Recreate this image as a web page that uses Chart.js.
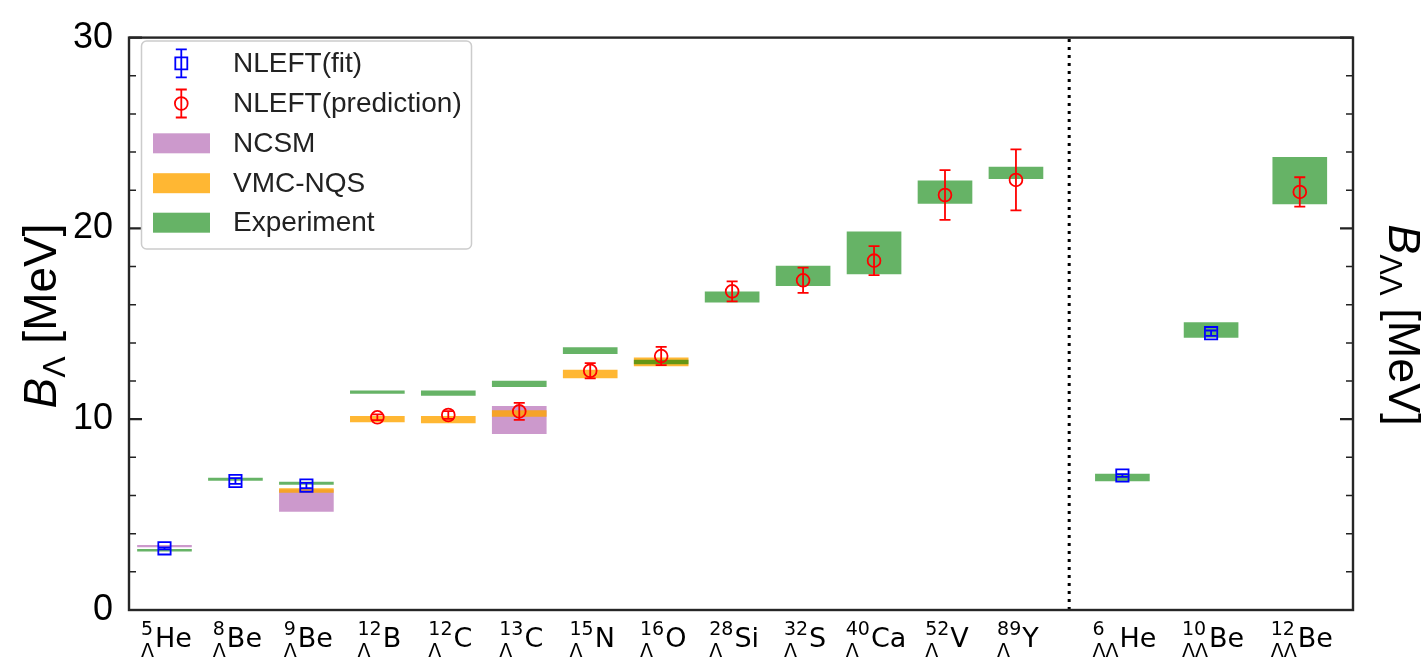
<!DOCTYPE html>
<html><head><meta charset="utf-8">
<script src="https://cdn.jsdelivr.net/npm/chart.js@4.4.1/dist/chart.umd.min.js"></script>
<style>html,body{margin:0;padding:0;background:#fff;} #wrap{width:1421px;height:658px;position:relative;}</style>
</head><body><div id="wrap"><canvas id="c" width="1421" height="658"></canvas></div>
<script>
// ---------- data ----------
const xPos = [0,1,2,3,4,5,6,7,8,9,10,11,12,13.5,14.75,16];
const massNumbers = ['5','8','9','12','12','13','15','16','28','32','40','52','89','6','10','12'];
const hyperons = ['Λ','Λ','Λ','Λ','Λ','Λ','Λ','Λ','Λ','Λ','Λ','Λ','Λ','ΛΛ','ΛΛ','ΛΛ'];
const elements = ['He','Be','Be','B','C','C','N','O','Si','S','Ca','V','Y','He','Be','Be'];

const expLow  = [3.08,6.79,6.58,11.35,11.25,11.70,13.44,12.90,16.13,17.00,17.62,21.31,22.60,6.76,14.28,21.28];
const expHigh = [3.18,6.91,6.70,11.49,11.49,12.00,13.75,13.10,16.68,18.02,19.82,22.49,23.21,7.12,15.07,23.73];

const ncsmLow  = [3.31,null,5.17,null,null,9.24,null,null,null,null,null,null,null,null,null,null];
const ncsmHigh = [3.39,null,6.30,null,null,10.67,null,null,null,null,null,null,null,null,null,null];

const vmcLow  = [null,null,6.16,9.86,9.81,10.15,12.16,12.79,null,null,null,null,null,null,null,null];
const vmcHigh = [null,null,6.36,10.15,10.15,10.45,12.57,13.22,null,null,null,null,null,null,null,null];

const fitValues = [3.23,6.76,6.52,null,null,null,null,null,null,null,null,null,null,7.05,14.51,null];
const fitErrors = [0.05,0.15,0.14,null,null,null,null,null,null,null,null,null,null,0.07,0.14,null];

const predValues = [null,null,null,10.10,10.22,10.41,12.54,13.31,16.70,17.28,18.31,21.75,22.54,null,null,21.91];
const predErrors = [null,null,null,0.15,0.20,0.45,0.40,0.48,0.52,0.66,0.76,1.30,1.60,null,null,0.77];

const yTickValues = [0,10,20,30];
const seriesNames = ['NLEFT(fit)','NLEFT(prediction)','NCSM','VMC-NQS','Experiment'];
const dividerX = 12.75;

// ---------- styling ----------
const COL_FIT = '#0000ff', COL_PRED = '#ff0000';
const COL_NCSM = 'rgba(128,0,128,0.4)', COL_VMC = 'rgba(255,165,0,0.8)', COL_EXP = 'rgba(0,128,0,0.6)';
const SANS = '"Liberation Sans", Arial, sans-serif';
const DJV = '"DejaVu Sans", sans-serif';

function bandData(lo, hi){ return xPos.map((x,i)=> lo[i]==null ? null : {x:x, y:[lo[i],hi[i]]}).filter(Boolean); }
function pointData(v){ return xPos.map((x,i)=> v[i]==null ? null : {x:x, y:v[i]}).filter(Boolean); }

const barCommon = {type:'bar', stack:'s', barThickness:54, borderWidth:0, borderSkipped:false};

const datasets = [
  {type:'scatter', label:seriesNames[0], data:pointData(fitValues), pointStyle:'rect', pointRadius:8.7, pointBorderColor:COL_FIT, pointBackgroundColor:'rgba(0,0,0,0)', pointBorderWidth:1.8, borderColor:COL_FIT, order:2},
  {type:'scatter', label:seriesNames[1], data:pointData(predValues), pointStyle:'circle', pointRadius:6.4, pointBorderColor:COL_PRED, pointBackgroundColor:'rgba(0,0,0,0)', pointBorderWidth:1.8, borderColor:COL_PRED, order:1},
  Object.assign({label:seriesNames[2], data:bandData(ncsmLow,ncsmHigh), backgroundColor:COL_NCSM, order:5}, barCommon),
  Object.assign({label:seriesNames[3], data:bandData(vmcLow,vmcHigh), backgroundColor:COL_VMC, order:4}, barCommon),
  Object.assign({label:seriesNames[4], data:bandData(expLow,expHigh), backgroundColor:COL_EXP, order:3}, barCommon)
];

function drawErrorBars(chart, values, errors, color){
  const ctx = chart.ctx, xs = chart.scales.x, ys = chart.scales.y;
  ctx.save(); ctx.strokeStyle = color; ctx.lineWidth = 1.8;
  xPos.forEach((x,i)=>{
    if (values[i]==null) return;
    const px = xs.getPixelForValue(x);
    const yt = ys.getPixelForValue(values[i]+errors[i]);
    const yb = ys.getPixelForValue(values[i]-errors[i]);
    ctx.beginPath();
    ctx.moveTo(px,yt); ctx.lineTo(px,yb);
    ctx.moveTo(px-5.5,yt); ctx.lineTo(px+5.5,yt);
    ctx.moveTo(px-5.5,yb); ctx.lineTo(px+5.5,yb);
    ctx.stroke();
  });
  ctx.restore();
}

function drawTitle(ctx, cx, cy, rot, size, subText){
  const segs = [
    {t:'B', font:'italic '+size+'px '+SANS, dy:0},
    {t:subText, font:Math.round(size*0.7)+'px '+SANS, dy:size*0.2},
    {t:' [MeV]', font:size+'px '+SANS, dy:0}
  ];
  let w = 0;
  segs.forEach(s=>{ ctx.font = s.font; s.w = ctx.measureText(s.t).width; w += s.w; });
  ctx.save(); ctx.translate(cx, cy); ctx.rotate(rot);
  ctx.fillStyle = '#000'; ctx.textBaseline = 'alphabetic'; ctx.textAlign = 'left';
  let x = -w/2;
  segs.forEach(s=>{ ctx.font = s.font; ctx.fillText(s.t, x, s.dy); x += s.w; });
  ctx.restore();
}

const decor = {
  id:'decor',
  afterDatasetDraw(chart, args){
    if (args.index === 4){
      drawErrorBars(chart, fitValues, fitErrors, COL_FIT);
      drawErrorBars(chart, predValues, predErrors, COL_PRED);
    }
  },
  afterDraw(chart){
    const ctx = chart.ctx, a = chart.chartArea, xs = chart.scales.x, ys = chart.scales.y;
    // divider
    ctx.save();
    ctx.strokeStyle = '#000'; ctx.lineWidth = 3; ctx.setLineDash([3,5]);
    const dx = xs.getPixelForValue(dividerX);
    ctx.beginPath(); ctx.moveTo(dx, a.bottom); ctx.lineTo(dx, a.top); ctx.stroke();
    ctx.restore();
    // y ticks inward, both sides
    ctx.save(); ctx.strokeStyle = '#222';
    for (let v = 0; v <= 30; v += 2){
      const py = ys.getPixelForValue(v);
      const major = yTickValues.includes(v);
      const len = major ? 13 : 7;
      ctx.lineWidth = major ? 2.2 : 1.5;
      ctx.beginPath();
      ctx.moveTo(a.left, py); ctx.lineTo(a.left+len, py);
      ctx.moveTo(a.right, py); ctx.lineTo(a.right-len, py);
      ctx.stroke();
    }
    // frame
    ctx.lineWidth = 2.4; ctx.strokeStyle = '#262626';
    ctx.strokeRect(a.left, a.top, a.right-a.left, a.bottom-a.top);
    ctx.restore();
    // x labels
    ctx.save(); ctx.fillStyle = '#000'; ctx.textBaseline = 'alphabetic'; ctx.textAlign = 'left';
    const base = 646.7;
    const supF = '19px '+DJV, mainF = '27px '+DJV;
    xPos.forEach((x,i)=>{
      const cx = xs.getPixelForValue(x);
      ctx.font = supF;
      const supW = ctx.measureText(massNumbers[i]).width;
      const subW = ctx.measureText(hyperons[i]).width;
      ctx.font = mainF;
      const elW = ctx.measureText(elements[i]).width;
      const lw = Math.max(supW, subW);
      const w = lw + 1 + elW;
      const x0 = cx - w/2 + 2;
      ctx.font = supF;
      ctx.fillText(massNumbers[i], x0, base-11.5);
      ctx.fillText(hyperons[i], x0, base+10);
      ctx.font = mainF;
      ctx.fillText(elements[i], x0+lw+1, base);
    });
    ctx.restore();
    // axis titles
    drawTitle(ctx, 56, 316, -Math.PI/2, 46, 'Λ');
    drawTitle(ctx, 1389, 325, Math.PI/2, 45, 'ΛΛ');
    // legend
    ctx.save();
    const lx = 141.5, ly = 41, lw2 = 330, lh = 208, r = 5;
    ctx.beginPath();
    ctx.moveTo(lx+r, ly); ctx.lineTo(lx+lw2-r, ly); ctx.arcTo(lx+lw2, ly, lx+lw2, ly+r, r);
    ctx.lineTo(lx+lw2, ly+lh-r); ctx.arcTo(lx+lw2, ly+lh, lx+lw2-r, ly+lh, r);
    ctx.lineTo(lx+r, ly+lh); ctx.arcTo(lx, ly+lh, lx, ly+lh-r, r);
    ctx.lineTo(lx, ly+r); ctx.arcTo(lx, ly, lx+r, ly, r); ctx.closePath();
    ctx.fillStyle = 'rgba(255,255,255,0.8)'; ctx.fill();
    ctx.strokeStyle = '#cccccc'; ctx.lineWidth = 1.5; ctx.stroke();
    const rows = [63.3, 103.5, 143.3, 183.2, 222.7];
    const hx = 181.3;
    [[COL_FIT,'rect'],[COL_PRED,'circle']].forEach((h,k)=>{
      const y = rows[k];
      ctx.strokeStyle = h[0]; ctx.lineWidth = 1.8;
      ctx.beginPath();
      ctx.moveTo(hx, y-14); ctx.lineTo(hx, y+14);
      ctx.moveTo(hx-5.5, y-14); ctx.lineTo(hx+5.5, y-14);
      ctx.moveTo(hx-5.5, y+14); ctx.lineTo(hx+5.5, y+14);
      ctx.stroke();
      ctx.beginPath();
      if (h[1]==='rect') ctx.rect(hx-6, y-6, 12, 12); else ctx.arc(hx, y, 6.4, 0, Math.PI*2);
      ctx.stroke();
    });
    [COL_NCSM, COL_VMC, COL_EXP].forEach((c,k)=>{
      ctx.fillStyle = c; ctx.fillRect(153, rows[k+2]-10, 57, 20);
    });
    ctx.fillStyle = '#222'; ctx.font = '28px '+SANS; ctx.textBaseline = 'middle'; ctx.textAlign = 'left';
    seriesNames.forEach((n,k)=> ctx.fillText(n, 233, rows[k]+1));
    ctx.restore();
  }
};

new Chart(document.getElementById('c'), {
  type:'bar',
  data:{datasets:datasets},
  options:{
    responsive:false, animation:false,
    layout:{padding:{top:27, right:68, left:0, bottom:0}},
    plugins:{legend:{display:false}, tooltip:{enabled:false}},
    scales:{
      x:{type:'linear', min:-0.5, max:16.75, offset:false,
         afterBuildTicks:(s)=>{ s.ticks = xPos.map(v=>({value:v})); },
         afterFit:(s)=>{ s.height = 48; },
         ticks:{display:false}, grid:{display:false, drawTicks:false, offset:false}, border:{display:false}},
      y:{type:'linear', min:0, max:30, stacked:false,
         afterBuildTicks:(s)=>{ s.ticks = yTickValues.map(v=>({value:v})); },
         afterFit:(s)=>{ s.width = 129; },
         ticks:{font:{family:SANS, size:36}, color:'#000', padding:16},
         grid:{display:false, drawTicks:false}, border:{display:false}}
    }
  },
  plugins:[decor]
});
</script></body></html>
